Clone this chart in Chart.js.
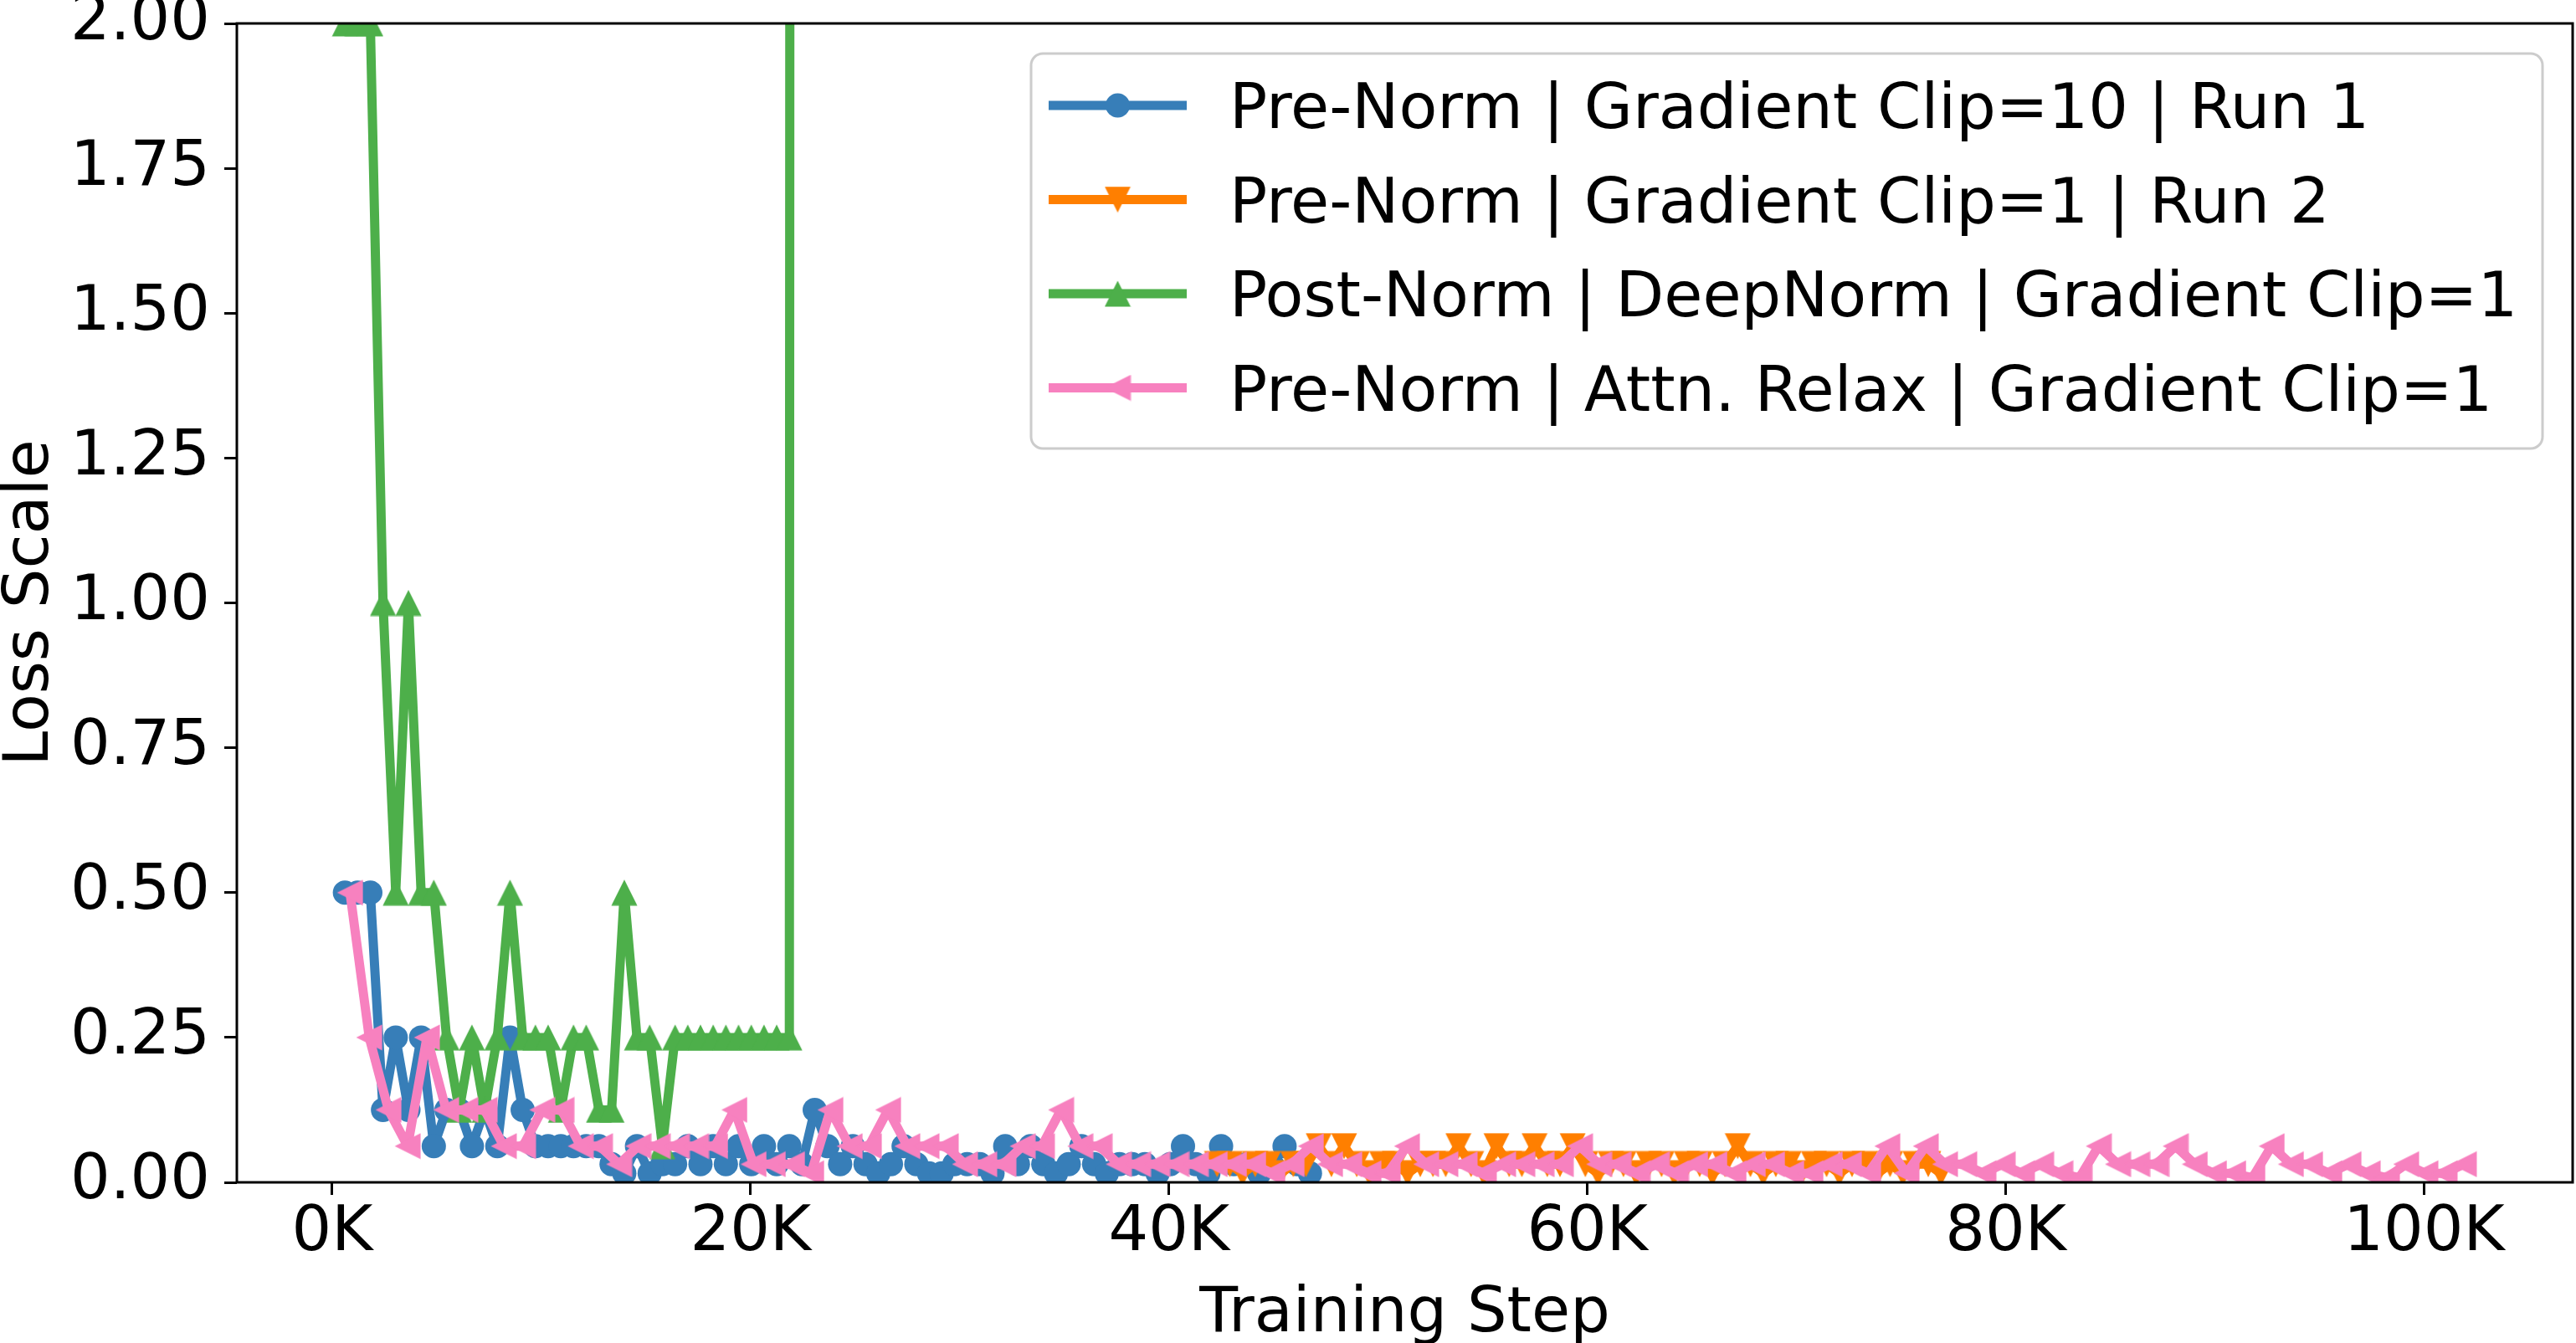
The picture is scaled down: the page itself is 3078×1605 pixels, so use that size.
<!DOCTYPE html>
<html><head><meta charset="utf-8">
<script src="https://cdn.jsdelivr.net/npm/chart.js@4.4.0/dist/chart.umd.min.js"></script>
<style>html,body{margin:0;padding:0;background:#fff;overflow:hidden}#wrap{width:3078px;height:1605px}</style>
</head><body><div id="wrap"><canvas id="c" width="3078" height="1605"></canvas></div>
<script>
// ---------- data ----------
const seriesLabels = [
  'Pre-Norm | Gradient Clip=10 | Run 1',
  'Pre-Norm | Gradient Clip=1 | Run 2',
  'Post-Norm | DeepNorm | Gradient Clip=1',
  'Pre-Norm | Attn. Relax | Gradient Clip=1'
];
const xTickValues = [0, 20000, 40000, 60000, 80000, 100000];
const yTickValues = [0, 0.25, 0.5, 0.75, 1.0, 1.25, 1.5, 1.75, 2.0];

// logging grid of each run (first logged step, logging interval)
const run1FirstStep = 607, run1Interval = 607;
const run2FirstStep = 42300, run2Interval = 607;
const deepNormFirstStep = 607, deepNormInterval = 607;
const relaxFirstStep = 850, relaxInterval = 918.6;

const run1LossScale = [0.5,0.5,0.5,0.125,0.25,0.125,0.25,0.0625,0.125,0.125,
 0.0625,0.125,0.0625,0.25,0.125,0.0625,0.0625,0.0625,0.0625,0.0625,
 0.0625,0.03125,0.015625,0.0625,0.015625,0.03125,0.03125,0.0625,0.03125,0.0625,
 0.03125,0.0625,0.03125,0.0625,0.03125,0.0625,0.03125,0.125,0.0625,0.03125,
 0.0625,0.03125,0.015625,0.03125,0.0625,0.03125,0.015625,0.015625,0.03125,0.03125,
 0.03125,0.015625,0.0625,0.03125,0.0625,0.03125,0.015625,0.03125,0.0625,0.03125,
 0.015625,0.03125,0.03125,0.03125,0.015625,0.03125,0.0625,0.03125,0.015625,0.0625,
 0.03125,0.03125,0.015625,0.03125,0.0625,0.03125,0.015625];

const run2LossScale = [0.03125,0.03125,0.015625,0.03125,0.03125,0.015625,0.03125,0.03125,0.0625,0.03125,
 0.0625,0.03125,0.015625,0.03125,0.03125,0.015625,0.03125,0.03125,0.03125,0.0625,
 0.03125,0.015625,0.0625,0.03125,0.03125,0.0625,0.03125,0.03125,0.0625,0.03125,
 0.015625,0.03125,0.03125,0.015625,0.03125,0.03125,0.015625,0.03125,0.03125,0.015625,
 0.03125,0.0625,0.03125,0.015625,0.03125,0.03125,0.015625,0.03125,0.03125,0.015625,
 0.03125,0.03125,0.015625,0.03125,0.015625,0.03125,0.03125,0.015625];

const deepNormLossScale = [2,2,2,1,0.5,1,0.5,0.5,0.25,0.125,
 0.25,0.125,0.25,0.5,0.25,0.25,0.25,0.125,0.25,0.25,
 0.125,0.125,0.5,0.25,0.25,0.0625,0.25,0.25,0.25,0.25,
 0.25,0.25,0.25,0.25,0.25,0.25,64];

const relaxLossScale = [0.5,0.25,0.125,0.0625,0.25,0.125,0.125,0.125,0.0625,0.0625,
 0.125,0.125,0.0625,0.0625,0.03125,0.0625,0.0625,0.0625,0.0625,0.0625,
 0.125,0.03125,0.03125,0.03125,0.015625,0.125,0.0625,0.0625,0.125,0.0625,
 0.0625,0.0625,0.03125,0.03125,0.03125,0.0625,0.0625,0.125,0.0625,0.0625,
 0.03125,0.03125,0.03125,0.03125,0.03125,0.03125,0.03125,0.03125,0.015625,0.03125,
 0.0625,0.03125,0.03125,0.015625,0.015625,0.0625,0.03125,0.03125,0.03125,0.015625,
 0.03125,0.03125,0.03125,0.03125,0.0625,0.03125,0.03125,0.015625,0.03125,0.015625,
 0.03125,0.03125,0.015625,0.03125,0.03125,0.015625,0.015625,0.03125,0.03125,0.015625,
 0.0625,0.015625,0.0625,0.03125,0.03125,0.015625,0.03125,0.015625,0.03125,0.015625,
 0.0078125,0.0625,0.03125,0.03125,0.03125,0.0625,0.03125,0.015625,0.015625,0.0078125,
 0.0625,0.03125,0.03125,0.015625,0.03125,0.015625,0.0078125,0.03125,0.015625,0.015625,
 0.03125];

// ---------- styling ----------
const colors = ['#377eb8', '#ff7f00', '#4daf4a', '#f781bf'];
const FONT = 'DejaVu Sans';
const FS = 75;

function toPoints(first, step, vals) { return vals.map((v, i) => ({x: first + step * i, y: v})); }

function triMarker(dir, color) {
  const s = 32, c = document.createElement('canvas');
  c.width = s; c.height = s;
  const g = c.getContext('2d');
  g.fillStyle = color; g.beginPath();
  if (dir === 'up') { g.moveTo(16, 0.5); g.lineTo(31.5, 31.5); g.lineTo(0.5, 31.5); }
  else if (dir === 'down') { g.moveTo(0.5, 0.5); g.lineTo(31.5, 0.5); g.lineTo(16, 31.5); }
  else { g.moveTo(0.5, 16); g.lineTo(31.5, 0.5); g.lineTo(31.5, 31.5); }
  g.closePath(); g.fill();
  return c;
}
const markers = ['circle', triMarker('down', colors[1]), triMarker('up', colors[2]), triMarker('left', colors[3])];

Chart.defaults.font.family = FONT;
Chart.defaults.font.size = FS;
Chart.defaults.color = '#000';

function ds(i, data, order) {
  return {
    label: seriesLabels[i], data, order,
    borderColor: colors[i], backgroundColor: colors[i],
    borderWidth: 11, borderJoinStyle: 'round', tension: 0,
    pointStyle: markers[i], pointRadius: 14.5, pointHoverRadius: 14.5,
    pointBorderWidth: 0, pointBackgroundColor: colors[i],
    clip: 0
  };
}

const framePlugin = {
  id: 'frameAndLegend',
  afterDraw(chart) {
    const {ctx, chartArea: a} = chart;
    ctx.save();
    ctx.strokeStyle = '#000'; ctx.lineWidth = 3;
    ctx.strokeRect(a.left, a.top, a.right - a.left, a.bottom - a.top);
    // legend
    const bx = 1232, by = 64, bw = 1806, bh = 472;
    ctx.beginPath(); ctx.roundRect(bx, by, bw, bh, 14);
    ctx.fillStyle = 'rgba(255,255,255,0.8)'; ctx.fill();
    ctx.strokeStyle = '#cccccc'; ctx.lineWidth = 3; ctx.stroke();
    ctx.font = FS + 'px "' + FONT + '"';
    ctx.textAlign = 'left'; ctx.textBaseline = 'alphabetic';
    for (let i = 0; i < 4; i++) {
      const y = 126 + 112.5 * i;
      ctx.strokeStyle = colors[i]; ctx.lineWidth = 11; ctx.lineCap = 'butt';
      ctx.beginPath(); ctx.moveTo(1253, y); ctx.lineTo(1418, y); ctx.stroke();
      const m = markers[i];
      if (m === 'circle') { ctx.fillStyle = colors[i]; ctx.beginPath(); ctx.arc(1335.5, y, 14.5, 0, Math.PI * 2); ctx.fill(); }
      else ctx.drawImage(m, 1335.5 - m.width / 2, y - m.height / 2);
      ctx.fillStyle = '#000';
      ctx.fillText(seriesLabels[i], 1469, y + 27.3);
    }
    ctx.restore();
  }
};

new Chart(document.getElementById('c'), {
  type: 'line',
  data: {
    datasets: [
      ds(0, toPoints(run1FirstStep, run1Interval, run1LossScale), 3),
      ds(1, toPoints(run2FirstStep, run2Interval, run2LossScale), 2),
      ds(2, toPoints(deepNormFirstStep, deepNormInterval, deepNormLossScale), 1),
      ds(3, toPoints(relaxFirstStep, relaxInterval, relaxLossScale), 0)
    ]
  },
  options: {
    responsive: false, animation: false, devicePixelRatio: 1,
    layout: {autoPadding: false, padding: {left: 0, right: 4, top: 28, bottom: 0}},
    plugins: {legend: {display: false}, tooltip: {enabled: false}},
    scales: {
      x: {
        type: 'linear', min: -4560, max: 107100,
        afterBuildTicks: s => { s.ticks = xTickValues.map(v => ({value: v})); },
        afterFit: s => { s.height = 192; s.paddingLeft = 0; s.paddingRight = 0; },
        ticks: {callback: v => (v / 1000) + 'K', padding: 2, maxRotation: 0, autoSkip: false,
                font: {size: FS, lineHeight: 1.2}},
        grid: {drawOnChartArea: false, drawTicks: true, tickLength: 15, tickWidth: 3, tickColor: '#000'},
        border: {display: false},
        title: {display: true, text: 'Training Step', font: {size: FS, lineHeight: 0.9}, padding: {top: 0, bottom: 0}}
      },
      y: {
        type: 'linear', min: 0, max: 2,
        afterBuildTicks: s => { s.ticks = yTickValues.map(v => ({value: v})); },
        afterFit: s => { s.width = 283; s.paddingTop = 0; s.paddingBottom = 0; },
        ticks: {callback: v => Number(v).toFixed(2), padding: 17, autoSkip: false, font: {size: FS}},
        grid: {drawOnChartArea: false, drawTicks: true, tickLength: 15, tickWidth: 3, tickColor: '#000'},
        border: {display: false},
        title: {display: true, text: 'Loss Scale', font: {size: FS, lineHeight: 1}, padding: {top: 0, bottom: 0}}
      }
    }
  },
  plugins: [framePlugin]
});
</script></body></html>
